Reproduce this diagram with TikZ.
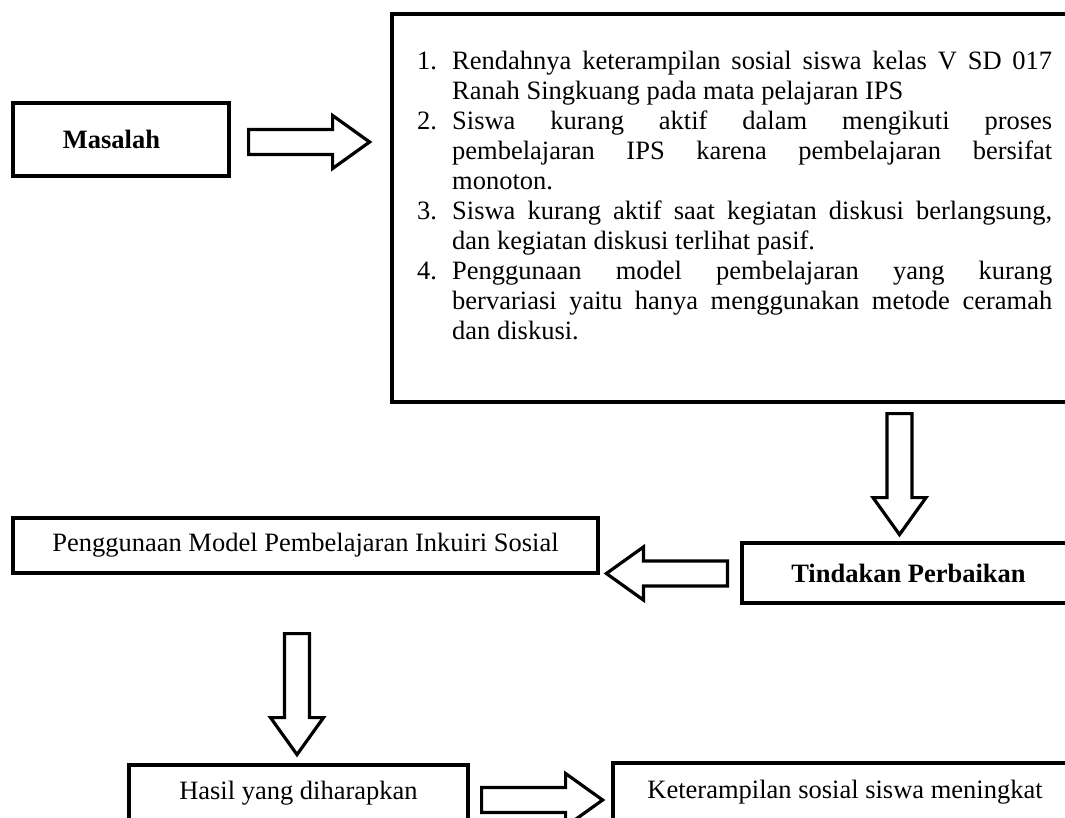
\documentclass[tikz,border=0pt]{standalone}
\usepackage{fontspec}
\setmainfont{Liberation Serif}
\usetikzlibrary{calc}
\newcommand\mytxt{\fontsize{26.5}{30}\selectfont}
\tikzset{
  box/.style={draw, line width=3.2pt, inner sep=0pt, font=\mytxt},
  boldbox/.style={box, font=\mytxt\bfseries},
  arrowline/.style={draw, line width=3.2pt, line join=miter, fill=white},
  pics/barrow/.style={code={\path[arrowline] (0,-12.5) -- (84,-12.5) -- (84,-26.5) -- (121,0) -- (84,26.5) -- (84,12.5) -- (0,12.5) -- cycle;}}
}
\begin{document}
\begin{tikzpicture}[x=1pt,y=-1pt]
\useasboundingbox (0,0) rectangle (1065,818);
\clip (0,0) rectangle (1065,818);
\fill[white] (0,0) rectangle (1065,818);
% boxes
\node[boldbox, minimum width=216pt, minimum height=73pt] (masalah) at (121,139.5) {\hspace*{-19pt}Masalah};
\node[box, minimum width=683pt, minimum height=388pt] (prob) at (733.5,208) {};
\node[anchor=base west, text width=635pt, inner sep=0pt, align=justify, font=\mytxt] (probtext) at (417,70) {%
\tolerance=10000\hyphenpenalty=10000\exhyphenpenalty=10000
\hangindent=35pt\hangafter=1\noindent\makebox[35pt][l]{1.}Rendahnya keterampilan sosial siswa kelas V SD 017\linebreak Ranah Singkuang pada mata pelajaran IPS\par
\hangindent=35pt\hangafter=1\noindent\makebox[35pt][l]{2.}Siswa kurang aktif dalam mengikuti proses\linebreak pembelajaran IPS karena pembelajaran bersifat\linebreak monoton.\par
\hangindent=35pt\hangafter=1\noindent\makebox[35pt][l]{3.}Siswa kurang aktif saat kegiatan diskusi berlangsung,\linebreak dan kegiatan diskusi terlihat pasif.\par
\hangindent=35pt\hangafter=1\noindent\makebox[35pt][l]{4.}Penggunaan model pembelajaran yang kurang\linebreak bervariasi yaitu hanya menggunakan metode ceramah\linebreak dan diskusi.\par};
\node[boldbox, minimum width=333pt, minimum height=60pt] (tindakan) at (908.5,573) {Tindakan Perbaikan};
\node[box, minimum width=585pt, minimum height=55pt] (penggunaan) at (305.5,545.5) {Penggunaan Model Pembelajaran Inkuiri Sosial};
\node[box, minimum width=339pt, minimum height=56pt] (hasil) at (298.5,793) {Hasil yang diharapkan};
\node[box, minimum width=464pt, minimum height=58pt] (ket) at (845,792) {Keterampilan sosial siswa meningkat};
% block arrows
\pic (arr1) at ($(masalah.east)+(18,2.5)$) {barrow};
\pic[rotate=-90] (arr2) at ($(prob.south)+(166,10)$) {barrow};
\pic[rotate=180] (arr3) at ($(tindakan.west)+(-13,0.5)$) {barrow};
\pic[rotate=-90] (arr4) at ($(penggunaan.south)+(-8.5,59)$) {barrow};
\pic (arr5) at ($(hasil.east)+(12,7)$) {barrow};
\end{tikzpicture}
\end{document}
